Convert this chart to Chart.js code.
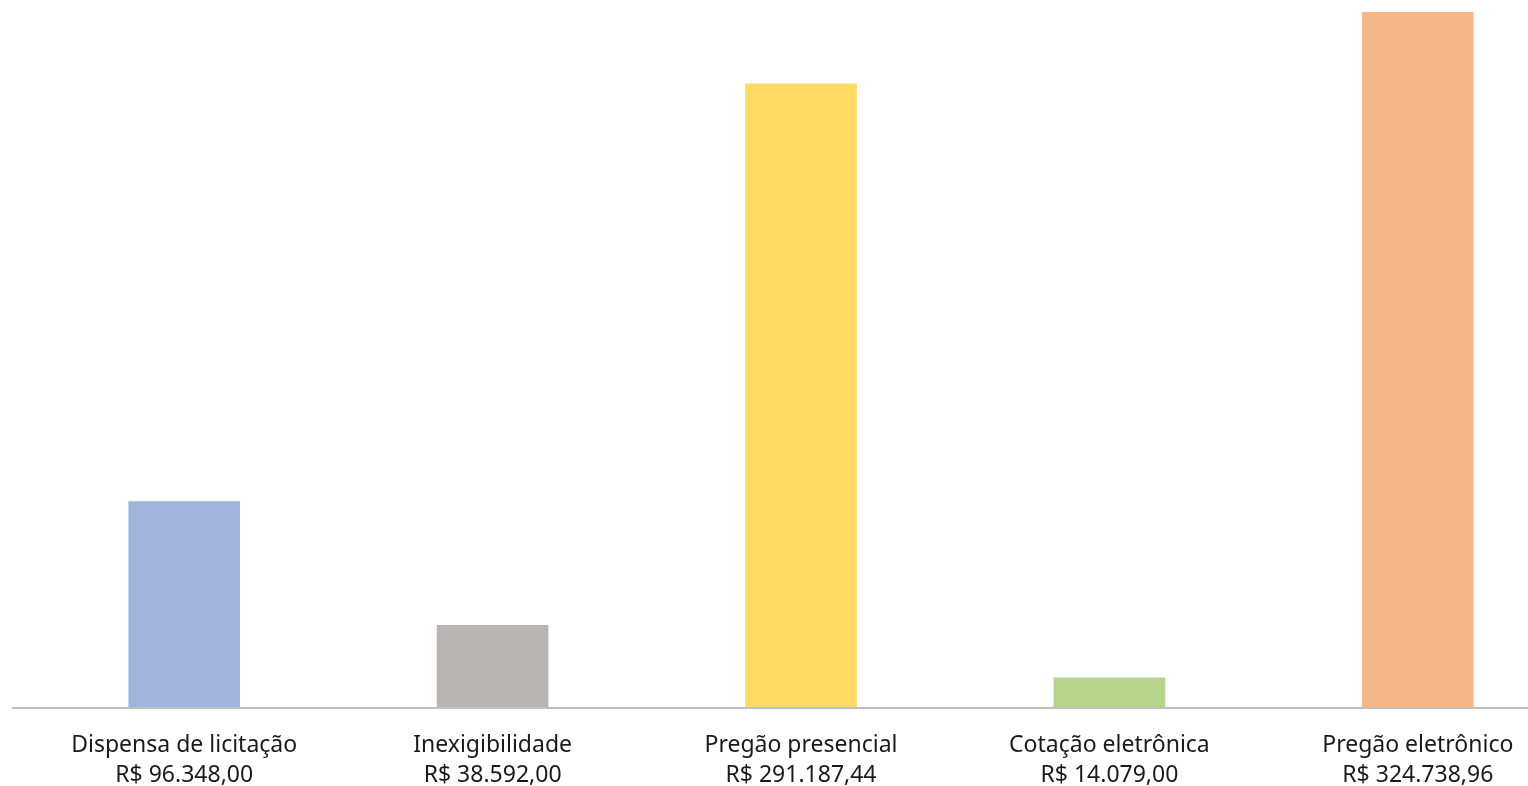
<!DOCTYPE html>
<html lang="pt-BR">
<head>
<meta charset="utf-8">
<title>Valores por modalidade</title>
<script src="https://cdn.jsdelivr.net/npm/chart.js@4/dist/chart.umd.min.js"></script>
<style>
    html, body { margin: 0; padding: 0; background: #fff; overflow: hidden; }
    #wrap { position: relative; width: 1528px; height: 786px; overflow: hidden; }
    #grafico { position: absolute; left: 0; top: 0; }
</style>
</head>
<body>
<div id="wrap">
    <canvas id="grafico" width="1572" height="804"></canvas>
</div>
<script>
// Modalidades e valores (R$)
const modalidades = ['Dispensa de licitação', 'Inexigibilidade', 'Pregão presencial', 'Cotação eletrônica', 'Pregão eletrônico'];
const valores = [96348.00, 38592.00, 291187.44, 14079.00, 324738.96];
const rotulosValor = ['R$ 96.348,00', 'R$ 38.592,00', 'R$ 291.187,44', 'R$ 14.079,00', 'R$ 324.738,96'];
const cores = ['#9FB3DC', '#B8B4B1', '#FFDB63', '#B5D38A', '#F5B788'];

Chart.defaults.font.family = "'Noto Sans', 'Open Sans', sans-serif";
Chart.defaults.color = '#1a1a1a';

// linha do eixo horizontal, começa um pouco à esquerda da área do gráfico
const linhaBase = {
    id: 'linhaBase',
    afterDatasetsDraw(chart) {
        const ctx = chart.ctx;
        const y = chart.scales.y.getPixelForValue(0);
        ctx.save();
        ctx.strokeStyle = '#BFBFBF';
        ctx.lineWidth = 2;
        ctx.beginPath();
        ctx.moveTo(12, y);
        ctx.lineTo(chart.width, y);
        ctx.stroke();
        ctx.restore();
    }
};

const labels = modalidades.map((m, i) => [m, rotulosValor[i]]);

new Chart(document.getElementById('grafico').getContext('2d'), {
    type: 'bar',
    data: {
        labels: labels,
        datasets: [{
            data: valores,
            backgroundColor: cores,
            barThickness: 111
        }]
    },
    options: {
        responsive: false,
        animation: false,
        layout: { padding: { left: 30, right: 0, top: 12, bottom: 0 } },
        plugins: {
            legend: { display: false },
            tooltip: { enabled: false }
        },
        scales: {
            x: {
                grid: { display: false },
                border: { display: false },
                ticks: {
                    padding: 14,
                    maxRotation: 0,
                    autoSkip: false,
                    color: '#1a1a1a',
                    font: { size: 23, lineHeight: '30px' }
                }
            },
            y: {
                display: false,
                min: 0,
                max: 324738.96
            }
        }
    },
    plugins: [linhaBase]
});
</script>
</body>
</html>
